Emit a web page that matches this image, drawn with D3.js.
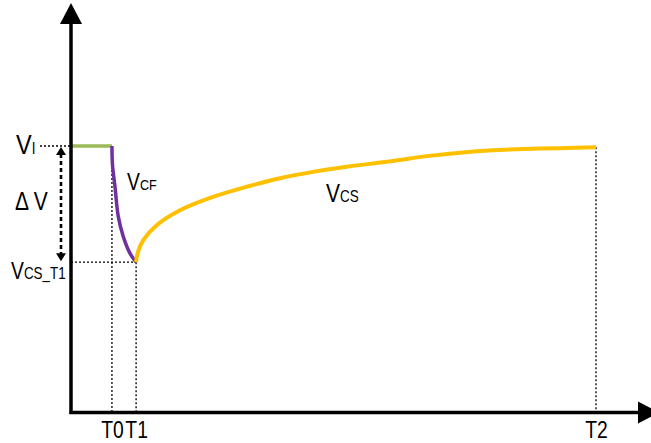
<!DOCTYPE html>
<html><head><meta charset="utf-8">
<script src="https://cdn.jsdelivr.net/npm/d3@7"></script>
<style>
html,body{margin:0;padding:0;background:#fff;}
svg{display:block;}
text{font-family:"Liberation Sans",Arial,sans-serif;fill:#000;}
</style></head>
<body>
<script>
// ---- data (time units: T2 = 1000; voltage units: V_I = 100) ----
const tickNames = ["T0", "T1", "T2"];
const tickTimes = [78, 124, 1000];
const vI = 100;
const vCsT1 = 56.4;
const greenT = [0, 78];
const greenV = [100, 100];
const cfT = [78, 79.0, 83.8, 90.1, 99.6, 112.4, 123.8];
const cfV = [100, 93.0, 84.7, 73.5, 66.0, 59.7, 56.4];
const csT = [123.8, 127.5, 137.7, 163.2, 207.6, 270.5, 334.7, 398.1, 461.0, 525.1, 613.3, 677.5, 741.0, 803.8, 868.0, 931.4, 1000];
const csV = [56.4, 60.2, 64.7, 70.3, 75.9, 80.9, 84.7, 87.9, 90.3, 92.2, 94.4, 96.2, 97.5, 98.4, 98.9, 99.2, 99.5];

const W = 651, H = 443;
const svg = d3.select("body").append("svg").attr("width", W).attr("height", H);
const x = d3.scaleLinear().domain([0, 1000]).range([71, 596]);
const y = d3.scaleLinear().domain([0, 100]).range([412.5, 146]);
const x0 = x(0), yB = y(0);
const SX = 0.84; // narrow glyphs

const dot = {stroke:"#000","stroke-width":1.3,"stroke-dasharray":"2,2"};
function dline(x1,y1,x2,y2,opts){
  const l = svg.append("line").attr("x1",x1).attr("y1",y1).attr("x2",x2).attr("y2",y2);
  Object.entries(opts).forEach(([k,v])=>l.attr(k,v));
  return l;
}
// dotted guides
dline(40, y(vI), x0, y(vI), dot);
dline(x0, y(vCsT1), x(tickTimes[1]), y(vCsT1), dot);
dline(x(tickTimes[0]), y(vI), x(tickTimes[0]), yB, dot);
dline(x(tickTimes[1]), y(vCsT1), x(tickTimes[1]), yB, dot);
dline(x(tickTimes[2]), y(csV[csV.length-1]), x(tickTimes[2]), yB, dot);

// delta V arrow
const ax = 61;
dline(ax, y(vI)+8, ax, y(vCsT1)-8, {stroke:"#000","stroke-width":2.6,"stroke-dasharray":"4,3"});
svg.append("path").attr("d", `M${ax},${y(vI)+1} L${ax-5},${y(vI)+9} L${ax+5},${y(vI)+9} Z`).attr("fill","#000");
svg.append("path").attr("d", `M${ax},${y(vCsT1)-1} L${ax-5},${y(vCsT1)-9} L${ax+5},${y(vCsT1)-9} Z`).attr("fill","#000");

// curves
const line = d3.line().x(d=>x(d[0])).y(d=>y(d[1]));
svg.append("path").attr("d", line(d3.zip(greenT, greenV))).attr("fill","none").attr("stroke","#9bbb59").attr("stroke-width",3.5);
svg.append("path").attr("d", line.curve(d3.curveCatmullRom)(d3.zip(cfT, cfV))).attr("fill","none").attr("stroke","#7030a0").attr("stroke-width",3.5);
svg.append("path").attr("d", line.curve(d3.curveCatmullRom)(d3.zip(csT, csV))).attr("fill","none").attr("stroke","#ffc000").attr("stroke-width",4);

// axes
svg.append("line").attr("x1",x0).attr("y1",yB+1.5).attr("x2",x0).attr("y2",22).attr("stroke","#000").attr("stroke-width",3.5);
svg.append("path").attr("d",`M${x0-11},24 L${x0+11},24 L${x0},3 Z`).attr("fill","#000");
svg.append("line").attr("x1",x0-1.5).attr("y1",yB).attr("x2",640).attr("y2",yB).attr("stroke","#000").attr("stroke-width",3.5);
svg.append("path").attr("d",`M638,${yB-11} L638,${yB+11} L659,${yB} Z`).attr("fill","#000");

// tick labels via axis
const axisG = svg.append("g").attr("transform",`translate(0,${yB})`)
  .call(d3.axisBottom(x).tickValues(tickTimes).tickFormat((d,i)=>tickNames[i]).tickSize(0));
axisG.select(".domain").remove();
axisG.selectAll(".tick text").attr("font-size",23).attr("font-family",null).attr("dy",null).attr("y",0)
  .attr("transform",`translate(0,25) scale(${SX},1)`);

// labels
function sub(tx, ty, main, ms, s, ss){
  const t = svg.append("text").attr("transform",`translate(${tx},${ty}) scale(${SX},1)`);
  t.append("tspan").attr("font-size",ms).text(main);
  t.append("tspan").attr("font-size",ss).text(s);
  return t;
}
sub(16, 154, "V", 28, "I", 16);
svg.append("text").attr("transform",`translate(15,210) scale(${SX},1)`).attr("font-size",25).text("Δ V");
sub(11, 279, "V", 23, "CS_T1", 16);
sub(127, 190, "V", 23, "CF", 15);
sub(326, 202, "V", 25, "CS", 16);
</script>
</body></html>
